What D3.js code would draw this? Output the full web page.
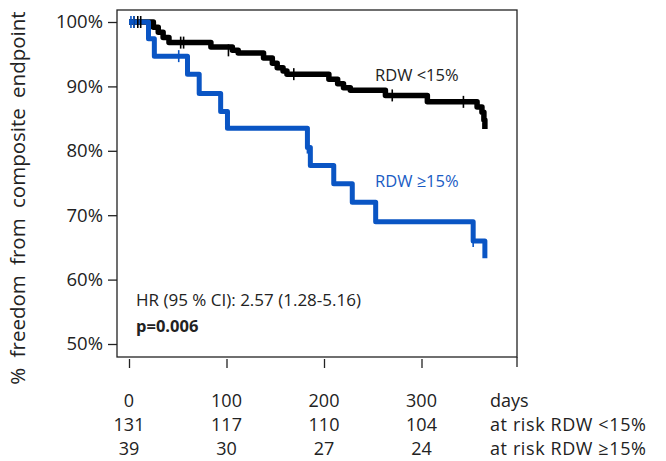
<!DOCTYPE html>
<html><head><meta charset="utf-8">
<script src="https://cdn.jsdelivr.net/npm/d3@7"></script>
<style>body{margin:0;background:#fff}svg{display:block}text{font-family:"Open Sans",sans-serif;fill:#222}</style>
</head><body><svg id="c" width="666" height="461"></svg>
<script>
// ---- data ----
const lowTimes  = [0, 25, 30, 35, 41, 84, 106, 112, 138, 147, 152, 158, 162, 205, 214, 220, 227, 263, 306, 357, 362, 364, 365];
const lowSurv   = [100, 99.2, 98.4, 97.6, 96.8, 96.1, 95.6, 95.2, 94.4, 93.6, 92.9, 92.4, 91.9, 91.1, 90.4, 89.8, 89.4, 88.6, 87.6, 86.8, 86.0, 84.8, 83.4];
const lowCensor = [5, 9, 12, 53, 56, 102, 169, 270, 343, 365];
const lowCensorSurv = [100, 100, 100, 96.8, 96.8, 95.6, 91.9, 88.6, 87.6, 85.0];
const highTimes = [0, 20, 26, 60, 72, 94, 101, 183, 186, 210, 229, 253, 353, 365, 365];
const highSurv  = [100, 97.4, 94.7, 91.9, 88.9, 86.1, 83.5, 80.5, 77.7, 74.9, 72.0, 69.0, 66.0, 64.5, 63.3];
const highCensor = [2, 5, 51, 183, 353, 365];
const highCensorSurv = [100, 100, 94.7, 80.5, 66.0, 64.5];
const xTicks = [0, 100, 200, 300];
const yTicks = [50, 60, 70, 80, 90, 100];
const riskLow = [131, 117, 110, 104];
const riskHigh = [39, 30, 27, 24];
const seriesNames = ["RDW <15%", "RDW \u226515%"];
const riskLabels = ["at risk RDW <15%", "at risk RDW \u226515%"];

const BLUE = "#0a55c4", BLACK = "#000";
const svg = d3.select("#c");
const L = 117, T = 10, R = 517, B = 357;
const x = d3.scaleLinear().domain([0, 400]).range([129, 519]);
const y = d3.scaleLinear().domain([50, 100]).range([344, 22]);

// frame
svg.append("rect").attr("x", L).attr("y", T).attr("width", R - L).attr("height", B - T)
  .attr("fill", "none").attr("stroke", "#222").attr("stroke-width", 1.3);
svg.append("line").attr("x1", R).attr("x2", R).attr("y1", B).attr("y2", B + 10)
  .attr("stroke", "#222").attr("stroke-width", 1.3);

// y axis ticks & labels
const yAx = svg.append("g").attr("transform", `translate(${L},0)`)
  .call(d3.axisLeft(y).tickValues(yTicks).tickFormat(d => d + "%").tickSize(9).tickPadding(5));
yAx.select(".domain").remove();
yAx.selectAll("line").attr("stroke", "#222").attr("stroke-width", 1.3);
yAx.selectAll("text").style("font-size", "18.5px").style("font-family", "Open Sans").attr("fill", "#222");

// x axis ticks (below frame)
const xAx = svg.append("g").attr("transform", `translate(0,${B + 2})`)
  .call(d3.axisBottom(x).tickValues(xTicks).tickSize(9).tickFormat(""));
xAx.select(".domain").remove();
xAx.selectAll("line").attr("stroke", "#222").attr("stroke-width", 1.3);

// y label
svg.append("text").attr("transform", "translate(25,198) rotate(-90)")
  .attr("text-anchor", "middle").style("font-size", "20.5px").attr("word-spacing", "5px")
  .text("% freedom from composite endpoint");

// curves
const line = d3.line().x(d => x(d[0])).y(d => y(d[1])).curve(d3.curveStepAfter);
function drawCurve(times, surv, color, w) {
  const pts = times.map((t, i) => [t, surv[i]]);
  svg.append("path").datum(pts).attr("d", line).attr("fill", "none")
    .attr("stroke", color).attr("stroke-width", w).attr("stroke-linejoin", "round").attr("stroke-linecap", "butt");
}
function drawCensor(times, surv, color) {
  svg.append("g").selectAll("line").data(times.map((t, i) => [t, surv[i]])).join("line")
    .attr("x1", d => x(d[0])).attr("x2", d => x(d[0]))
    .attr("y1", d => y(d[1]) - 6).attr("y2", d => y(d[1]) + 6)
    .attr("stroke", color).attr("stroke-width", 1.6);
}
drawCurve(lowTimes, lowSurv, BLACK, 5.5);
drawCurve(highTimes, highSurv, BLUE, 5);
drawCensor(lowCensor, lowCensorSurv, BLACK);
drawCensor(highCensor, highCensorSurv, BLUE);

// series labels
svg.append("text").attr("x", 375).attr("y", 81).style("font-size", "16.5px").text(seriesNames[0]);
svg.append("text").attr("x", 375).attr("y", 187).style("font-size", "16.5px").style("fill", "#1a5cc4").text(seriesNames[1]);

// stats
svg.append("text").attr("x", 136).attr("y", 306).style("font-size", "17px").text("HR (95 % CI): 2.57 (1.28-5.16)");
svg.append("text").attr("x", 136).attr("y", 332).style("font-size", "16.5px").style("font-weight", "bold").text("p=0.006");

// bottom table
const rows = [400, 424, 448];
const fs = "18px", dy = 6.5;
svg.append("g").selectAll("text").data(xTicks).join("text")
  .attr("x", d => x(d)).attr("y", rows[0] + dy).attr("text-anchor", "middle").style("font-size", fs).text(d => d);
svg.append("g").selectAll("text").data(riskLow).join("text")
  .attr("x", (d, i) => x(xTicks[i])).attr("y", rows[1] + dy).attr("text-anchor", "middle").style("font-size", fs).text(d => d);
svg.append("g").selectAll("text").data(riskHigh).join("text")
  .attr("x", (d, i) => x(xTicks[i])).attr("y", rows[2] + dy).attr("text-anchor", "middle").style("font-size", fs).text(d => d);
svg.append("text").attr("x", 490).attr("y", rows[0] + dy).style("font-size", fs).text("days");
riskLabels.forEach((lab, i) => {
  svg.append("text").attr("x", 490).attr("y", rows[i + 1] + dy).style("font-size", fs)
    .attr("letter-spacing", "0.6px").text(lab);
});
</script></body></html>
